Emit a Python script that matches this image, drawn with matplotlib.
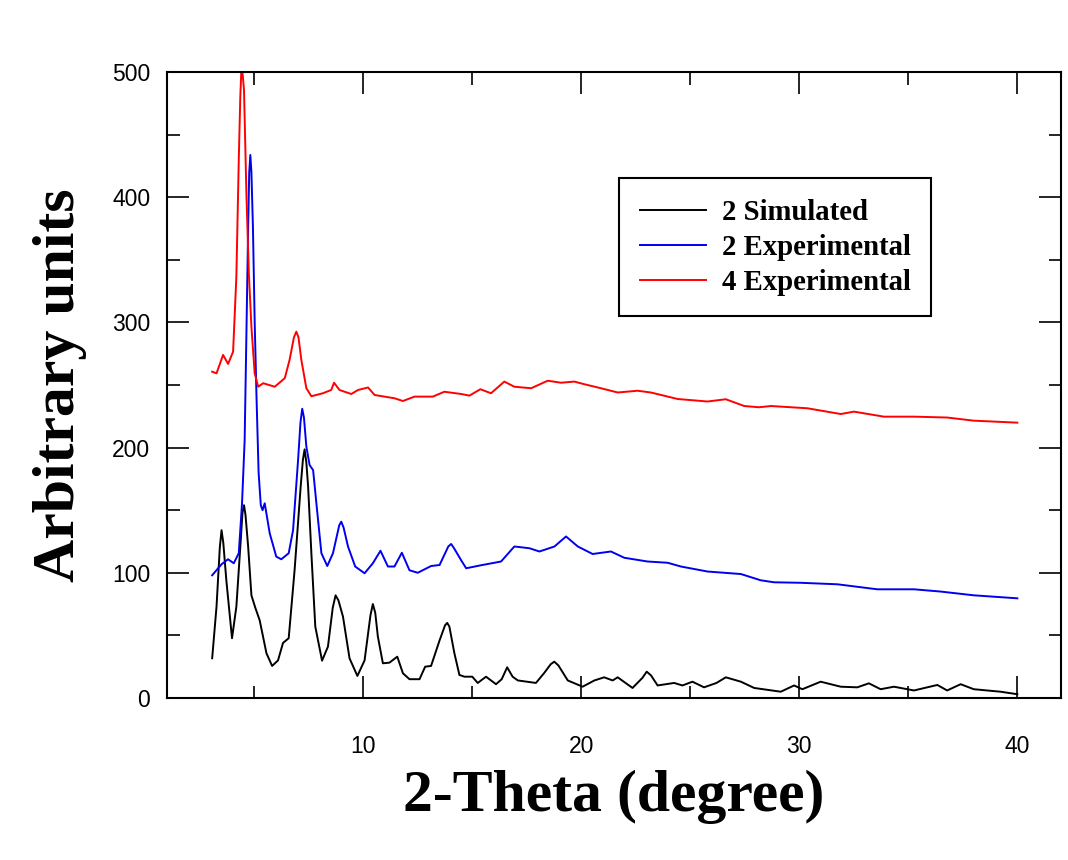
import matplotlib
matplotlib.use("Agg")
import matplotlib.pyplot as plt
from matplotlib.ticker import MultipleLocator

# 2 Simulated
sim_x = [3.07, 3.27, 3.42, 3.5, 3.58, 3.72, 3.98, 4.18, 4.38, 4.46, 4.53, 4.6, 4.72, 4.87,
         5.05, 5.25, 5.56, 5.82, 6.09, 6.32, 6.58, 6.85, 7.13, 7.23, 7.31, 7.39, 7.47,
         7.62, 7.8, 8.11, 8.38, 8.6, 8.73, 8.86, 9.07, 9.37, 9.73, 10.06, 10.33, 10.44,
         10.55, 10.67, 10.9, 11.2, 11.56, 11.82, 12.12, 12.58, 12.84, 13.11, 13.5, 13.75,
         13.85, 13.95, 14.18, 14.41, 14.64, 15.0, 15.25, 15.63, 16.09, 16.35, 16.6, 16.85,
         17.09, 17.92, 18.3, 18.6, 18.76, 18.95, 19.38, 20.06, 20.6, 21.05, 21.44, 21.67,
         22.35, 22.8, 23.0, 23.2, 23.5, 24.26, 24.64, 25.1, 25.63, 26.2, 26.63, 27.32,
         27.93, 29.15, 29.76, 30.14, 30.98, 31.9, 32.66, 33.19, 33.73, 34.34, 35.26,
         36.33, 36.78, 37.4, 38.0, 39.23, 40.0]
sim_y = [31.7, 73, 120, 134, 124, 94, 47.7, 73, 126, 148, 154, 146, 121, 82,
         72, 62, 35.7, 25.6, 30, 44, 47.7, 102, 169, 190, 198.6, 188, 169,
         115.6, 57, 29.8, 41, 72, 82, 78, 65, 31.7, 17.6, 30, 66, 75,
         68, 49, 27.7, 28.2, 33, 19.7, 15, 15, 25, 25.6, 46, 58,
         60, 57, 35.7, 18.4, 17, 17, 12, 17, 11, 15, 24.5, 17,
         14, 12, 20, 27, 29, 26, 14, 9, 14, 16.5, 14, 16.5,
         8, 16, 21, 18, 10, 12, 10, 13, 8.5, 12, 16.5, 13,
         8, 5, 10, 7, 13, 9, 8.5, 11.7, 7, 9, 6,
         10.4, 6, 11, 7, 5, 3]

# 2 Experimental
exp2_x = [3.07, 3.5, 3.8, 4.06, 4.29, 4.44, 4.56, 4.64, 4.72, 4.77, 4.82, 4.87, 4.94,
          5.02, 5.1, 5.2, 5.3, 5.38, 5.48, 5.71, 6.01, 6.24, 6.58, 6.78, 7.01, 7.12,
          7.2, 7.28, 7.39, 7.54, 7.7, 7.85, 8.08, 8.35, 8.61, 8.9, 8.99, 9.1, 9.3, 9.63,
          10.06, 10.44, 10.79, 11.13, 11.43, 11.77, 12.12, 12.5, 13.11, 13.5, 13.9, 14.03,
          14.15, 14.49, 14.72, 15.4, 16.32, 16.93, 17.62, 18.08, 18.77, 19.3, 19.84,
          20.52, 21.36, 21.97, 23.04, 23.96, 24.57, 25.79, 27.32, 28.23, 28.84, 30.07,
          31.75, 33.58, 35.26, 36.48, 38.0, 40.0]
exp2_y = [98, 106.8, 110.8, 107.6, 115.6, 155.5, 206, 290, 376, 420, 433.7, 420, 376,
          300, 243, 180, 154, 150, 155.5, 131.5, 112.9, 110.8, 115.6, 134, 190, 220,
          231, 224, 200.7, 186, 182, 155.5, 115.6, 105.4, 115.6, 138, 140.8, 136, 121, 105,
          99.6, 107.6, 117.6, 105, 105, 116, 102, 100, 105.4, 106.2, 121, 123,
          120, 110, 103.6, 106, 109, 121, 119.6, 117, 121, 129, 121,
          115, 117, 112, 109, 108, 105, 101, 99, 94, 92.4, 92,
          90.8, 86.8, 86.8, 85, 82, 79.6]

# 4 Experimental
exp4_x = [3.07, 3.27, 3.57, 3.8, 4.03, 4.18, 4.29, 4.36, 4.41, 4.47, 4.53, 4.64, 4.75,
          4.87, 5.02, 5.18, 5.41, 5.94, 6.4, 6.62, 6.82, 6.93, 7.03, 7.16, 7.39, 7.62,
          8.15, 8.53, 8.66, 8.91, 9.45, 9.76, 10.22, 10.52, 11.43, 11.82, 12.35, 13.19,
          13.72, 14.49, 14.87, 15.37, 15.86, 16.47, 16.93, 17.7, 18.46, 19.07, 19.68,
          20.14, 20.9, 21.67, 22.58, 23.19, 24.42, 25.79, 26.63, 27.47, 28.15, 28.7,
          30.37, 31.9, 32.51, 33.88, 35.26, 36.78, 38.0, 40.0]
exp4_y = [260.6, 259.3, 274, 266.8, 276.6, 336.5, 429.7, 480, 502, 498, 485.6, 403, 340,
          296.6, 259.3, 248.6, 251.4, 248.6, 255.4, 270, 288, 292.6, 288, 270, 247.4, 241,
          243.4, 246, 251.8, 246, 242.8, 246, 248, 242, 239.4, 237.2, 240.7, 240.7,
          244.6, 242.8, 241.5, 246.6, 243.4, 252.7, 248.6, 247.4, 253.4, 251.8, 252.7,
          250.6, 247.4, 244, 245.4, 244, 238.8, 236.8, 238.6, 233.2, 232.2, 233.2,
          231.4, 226.8, 228.7, 224.7, 224.7, 224, 221.5, 219.9]

labels = ["2 Simulated", "2 Experimental", "4 Experimental"]
colors = ["black", "#0000ee", "#ff0000"]

serif_bold = {"family": "Liberation Serif", "weight": "bold"}

fig = plt.figure(figsize=(10.68, 8.6), dpi=100)
ax = fig.add_axes([0.1564, 0.1884, 0.8370, 0.7279])

for xs, ys, lab, col in zip([sim_x, exp2_x, exp4_x], [sim_y, exp2_y, exp4_y], labels, colors):
    ax.plot(xs, ys, color=col, lw=1.4, label=lab)

ax.set_xlim(1, 42)
ax.set_ylim(0, 500)
ax.xaxis.set_major_locator(MultipleLocator(10))
ax.xaxis.set_minor_locator(MultipleLocator(5))
ax.yaxis.set_major_locator(MultipleLocator(100))
ax.yaxis.set_minor_locator(MultipleLocator(50))
ax.tick_params(which="both", direction="in", top=True, right=True, width=1.2, colors="black")
ax.tick_params(which="major", length=16)
ax.tick_params(which="minor", length=9)
ax.tick_params(axis="x", which="major", pad=27)
ax.tick_params(axis="y", which="major", pad=12)
for lab in ax.get_xticklabels() + ax.get_yticklabels():
    lab.set_fontfamily("Liberation Sans")
    lab.set_fontsize(16.5)
for sp in ax.spines.values():
    sp.set_linewidth(1.5)

ax.set_xlabel("2-Theta (degree)", fontsize=43, **serif_bold)
ax.set_ylabel("Arbitrary units", fontsize=43, **serif_bold)
ax.xaxis.set_label_coords(0.5, -0.115)
ax.yaxis.set_label_coords(-0.09, 0.5)

leg = ax.legend(loc="upper left", bbox_to_anchor=(0.5056, 0.8307), borderaxespad=0,
                prop={"family": "Liberation Serif", "weight": "bold", "size": 20.7},
                fancybox=False, edgecolor="black", framealpha=1, handlelength=2.3,
                handletextpad=0.55, labelspacing=0.28, borderpad=0.72)
leg.get_frame().set_linewidth(1.5)

fig.savefig("out.png", dpi=100)
